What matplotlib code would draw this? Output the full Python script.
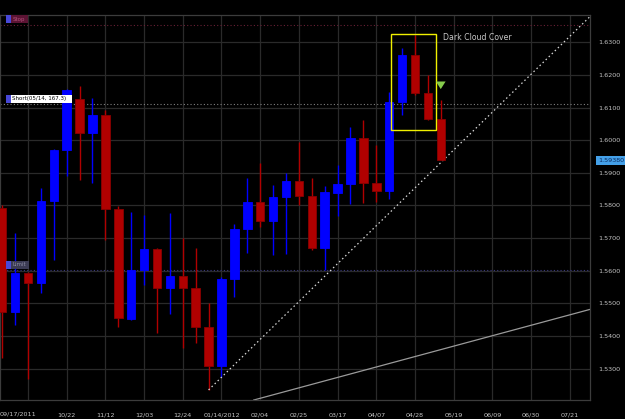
import matplotlib
matplotlib.use("Agg")
import matplotlib.pyplot as plt
import matplotlib.patches as patches
import matplotlib.transforms as mtransforms

# weekly candles, 09/17/2011 .. 05/12/2012
opens = [1.5793, 1.5475, 1.5592, 1.5562, 1.5815, 1.5970, 1.6126, 1.6021, 1.6077, 1.5788,
         1.5452, 1.5602, 1.5667, 1.5546, 1.5585, 1.5546, 1.5427, 1.5308, 1.5574, 1.5727,
         1.5812, 1.5753, 1.5827, 1.5875, 1.5830, 1.5671, 1.5839, 1.5866, 1.6006, 1.5870,
         1.5844, 1.6118, 1.6261, 1.6146, 1.6065]
highs = [1.5800, 1.5717, 1.5596, 1.5853, 1.5972, 1.6158, 1.6166, 1.6130, 1.6093, 1.5798,
         1.5781, 1.5771, 1.5670, 1.5776, 1.5701, 1.5671, 1.5500, 1.5580, 1.5743, 1.5883,
         1.5929, 1.5863, 1.5901, 1.5995, 1.5883, 1.5860, 1.5924, 1.6040, 1.6062, 1.5985,
         1.6149, 1.6282, 1.6322, 1.6200, 1.6123]
lows = [1.5333, 1.5434, 1.5268, 1.5531, 1.5633, 1.5890, 1.5878, 1.5870, 1.5694, 1.5429,
        1.5450, 1.5556, 1.5410, 1.5468, 1.5364, 1.5378, 1.5235, 1.5276, 1.5521, 1.5655,
        1.5733, 1.5648, 1.5650, 1.5802, 1.5664, 1.5602, 1.5768, 1.5804, 1.5807, 1.5812,
        1.5820, 1.6077, 1.6140, 1.6062, 1.5938]
closes = [1.5475, 1.5592, 1.5562, 1.5815, 1.5970, 1.6154, 1.6021, 1.6077, 1.5788, 1.5454,
          1.5602, 1.5667, 1.5546, 1.5585, 1.5546, 1.5427, 1.5308, 1.5574, 1.5727, 1.5812,
          1.5753, 1.5827, 1.5875, 1.5830, 1.5671, 1.5842, 1.5866, 1.6006, 1.5870, 1.5844,
          1.6118, 1.6261, 1.6146, 1.6065, 1.5938]

# x axis: week index -> label
date_ticks = [5, 8, 11, 14, 17, 20, 23, 26, 29, 32, 35, 38, 41, 44]
date_labels = ["10/22", "11/12", "12/03", "12/24", "01/14/2012", "02/04", "02/25",
               "03/17", "04/07", "04/28", "05/19", "06/09", "06/30", "07/21"]
first_label = "09/17/2011"
price_ticks = [1.53, 1.54, 1.55, 1.56, 1.57, 1.58, 1.59, 1.60, 1.61, 1.62, 1.63]

# order / pattern levels
stop_level = 1.6353
short_level = 1.6110
limit_level = 1.5602
last_price = 1.5938
pattern_idx = [31, 32, 33]
trend_up = ([16, 45.6], [1.5235, 1.6380])
trend_low = ([19.5, 45.6], [1.5204, 1.5482])

BLUE = "#0000ff"
RED = "#b00000"
GRID = "#2a2a2a"
TXT = "#c4c4c4"
FONT = "DejaVu Sans"

fig = plt.figure(figsize=(6.25, 4.19), dpi=100, facecolor="black")
ax = fig.add_axes([0, 19 / 419, 590 / 625, 385 / 419])
ax.set_facecolor("black")
ax.set_xlim(-0.17, 45.57)
ax.set_ylim(1.52041, 1.63836)

# grid
for gx in range(2, 46, 3):
    ax.axvline(gx, color=GRID, lw=0.9, zorder=0)
for gy in price_ticks:
    ax.axhline(gy, color=GRID, lw=0.9, zorder=0)

# candles
xs = list(range(len(opens)))
for x, o, h, l, c in zip(xs, opens, highs, lows, closes):
    col = BLUE if c >= o else RED
    ax.vlines(x, l, h, colors=col, lw=1.0, zorder=2)
    ax.bar(x, abs(c - o), bottom=min(o, c), width=0.66, color=col,
           edgecolor="#8a0000" if c < o else BLUE, linewidth=0.6, zorder=3)

# trend lines
ax.plot(trend_up[0], trend_up[1], color="#d8d8d8", lw=0.9, ls=(0, (1.2, 2.2)), zorder=2)
ax.plot(trend_low[0], trend_low[1], color="#9a9a9a", lw=0.9, zorder=2)

# order lines
ax.axhline(stop_level, color="#6a2036", lw=0.8, ls=(0, (1, 2)), zorder=1)
ax.axhline(short_level, color="#808080", lw=0.8, ls=(0, (1, 2)), zorder=1)
ax.axhline(limit_level, color="#3a3a80", lw=0.8, ls=(0, (1, 2)), zorder=1)

# order labels at left edge
blend = mtransforms.blended_transform_factory(ax.transAxes, ax.transData)
ppx = 1 / 590.0
ppy = 1 / 3264.0
labels = [("Stop", stop_level, 17, "#5c1434", "#b0507a"),
          ("Short(05/14, 167.3)", short_level, 61, "white", "black"),
          ("Limit", limit_level, 18, "#3c3c54", "#8a8aa0")]
for text, lvl, w, bg, fg in labels:
    y0 = lvl + 1.5 * ppy
    ax.add_patch(patches.Rectangle((6 * ppx, y0), 5 * ppx, 8 * ppy, transform=blend,
                                   facecolor="#4848d8", edgecolor="none", zorder=5))
    ax.add_patch(patches.Rectangle((11 * ppx, y0), w * ppx, 8 * ppy, transform=blend,
                                   facecolor=bg, edgecolor="none", zorder=5))
    ax.text(12.5 * ppx, y0 + 4 * ppy, text, transform=blend, color=fg, fontsize=4.0,
            family=FONT, va="center", ha="left", zorder=6)

# dark cloud cover box
p_lo = min(lows[i] for i in pattern_idx) - 0.003
p_hi = max(highs[i] for i in pattern_idx) + 0.0004
ax.add_patch(patches.Rectangle((pattern_idx[0] - 0.85, p_lo), pattern_idx[-1] - pattern_idx[0] + 1.45,
                               p_hi - p_lo, facecolor="none", edgecolor="#f0f000", lw=1.0, zorder=4))
ax.text(pattern_idx[-1] + 1.2, p_hi - 0.0010, "Dark Cloud Cover", color="#c8c8c8",
        fontsize=5.6, family=FONT, va="center", ha="left")

# sell arrow
ax.annotate("", xy=(34, 1.6148), xytext=(34, 1.6175),
            arrowprops=dict(arrowstyle="simple,head_width=0.7,head_length=0.55,tail_width=0.4",
                            color="#86cc4c", lw=0), zorder=6)

# axes styling
for s in ax.spines.values():
    s.set_color("#3c3c3c")
    s.set_linewidth(0.9)
ax.yaxis.tick_right()
ax.set_yticks(price_ticks)
ax.set_yticklabels([f"{p:.4f}" for p in price_ticks])
ax.set_xticks(date_ticks)
ax.set_xticklabels(date_labels)
ax.tick_params(length=0, colors=TXT, labelsize=4.6)
ax.tick_params(axis="x", pad=9)
ax.tick_params(axis="y", pad=6)
for lab in ax.get_xticklabels() + ax.get_yticklabels():
    lab.set_family(FONT)
ax.text(0, -13.5 / 385, first_label, transform=ax.transAxes, color=TXT, fontsize=4.6,
        family=FONT, ha="left", va="center")

# current price tag
ax.text(1 + 8 * ppx, last_price, f"{last_price:.5f}", transform=blend, color="#0a2a60",
        fontsize=4.6, family=FONT, ha="left", va="center", clip_on=False,
        bbox=dict(facecolor="#44a0e8", edgecolor="none", pad=1.2))

fig.savefig("out.png", dpi=100, facecolor="black")
